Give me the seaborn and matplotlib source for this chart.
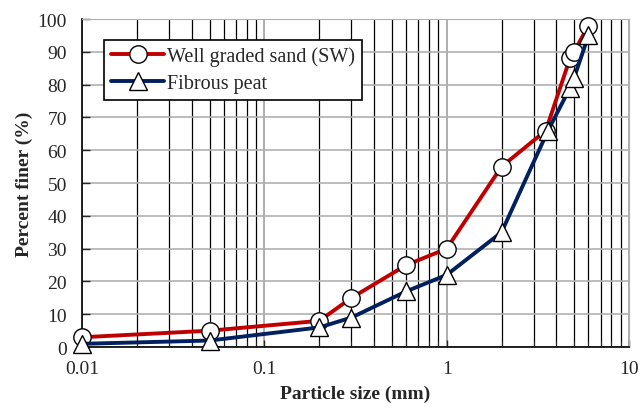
import numpy as np
import pandas as pd
import matplotlib
matplotlib.use('Agg')
import matplotlib.pyplot as plt
from matplotlib.ticker import FixedLocator, FuncFormatter, NullFormatter
import seaborn as sns

sns.set_style('white')
plt.rcParams['font.family'] = ['Liberation Serif', 'DejaVu Serif']

# particle size (mm) and percent finer
sw_size = [0.01, 0.05, 0.2, 0.3, 0.6, 1, 2, 3.5, 4.75, 5, 6]
sw_finer = [3, 5, 8, 15, 25, 30, 55, 66, 88, 90, 98]
peat_size = [0.01, 0.05, 0.2, 0.3, 0.6, 1, 2, 3.6, 4.75, 5, 6]
peat_finer = [1, 2, 6, 9, 17, 22, 35, 66, 79, 82, 95]

df = pd.concat([
    pd.DataFrame({'size': sw_size, 'finer': sw_finer, 'soil': 'Well graded sand (SW)'}),
    pd.DataFrame({'size': peat_size, 'finer': peat_finer, 'soil': 'Fibrous peat'}),
])

fig, ax = plt.subplots(figsize=(6.43, 4.10), dpi=100)

sns.lineplot(data=df, x='size', y='finer', hue='soil', style='soil',
             palette={'Well graded sand (SW)': '#C00000', 'Fibrous peat': '#002060'},
             markers={'Well graded sand (SW)': 'o', 'Fibrous peat': '^'},
             dashes=False, sort=False, estimator=None, linewidth=2.8,
             markersize=12.5, markerfacecolor='white', markeredgecolor='black',
             markeredgewidth=1, ax=ax, zorder=3, clip_on=False)

ax.set_xscale('log')
ax.set_xlim(0.01, 10)
ax.set_ylim(0, 100)
ax.set_yticks(range(0, 101, 10))
ax.xaxis.set_major_locator(FixedLocator([0.01, 0.1, 1, 10]))
ax.xaxis.set_major_formatter(FuncFormatter(lambda v, p: f'{v:g}'))
minor = [m * d for d in [0.01, 0.1, 1] for m in range(2, 10)]
ax.xaxis.set_minor_locator(FixedLocator(minor))
ax.xaxis.set_minor_formatter(NullFormatter())

ax.grid(True, which='major', axis='y', color='#b0b0b0', linewidth=1.2)
ax.grid(True, which='major', axis='x', color='#a0a0a0', linewidth=1.2)
ax.grid(True, which='minor', axis='x', color='black', linewidth=0.9)
ax.set_axisbelow(True)

for s in ['top', 'right']:
    ax.spines[s].set_color('#b0b0b0')
for s in ['left', 'bottom']:
    ax.spines[s].set_color('black')
    ax.spines[s].set_linewidth(1.2)

ax.tick_params(axis='y', which='major', direction='in', length=6, width=1, labelsize=14, left=True, pad=11)
ax.tick_params(axis='x', which='major', direction='in', length=5, width=1, labelsize=14, pad=9, bottom=True)
ax.tick_params(axis='x', which='minor', direction='in', length=4, bottom=True)

ax.set_xlabel('Particle size (mm)', fontsize=14, fontweight='bold', labelpad=6)
ax.set_ylabel('Percent finer (%)', fontsize=14, fontweight='bold', labelpad=3)

leg = ax.legend(loc='upper left', bbox_to_anchor=(0.022, 0.968), fontsize=14.5, frameon=True,
                fancybox=False, edgecolor='black', framealpha=1, handlelength=2.6,
                borderpad=0.35, labelspacing=0.35, handletextpad=0.15)
leg.get_frame().set_linewidth(1.2)

plt.subplots_adjust(left=0.128, right=0.978, top=0.951, bottom=0.151)
plt.savefig('out.png', dpi=100)
